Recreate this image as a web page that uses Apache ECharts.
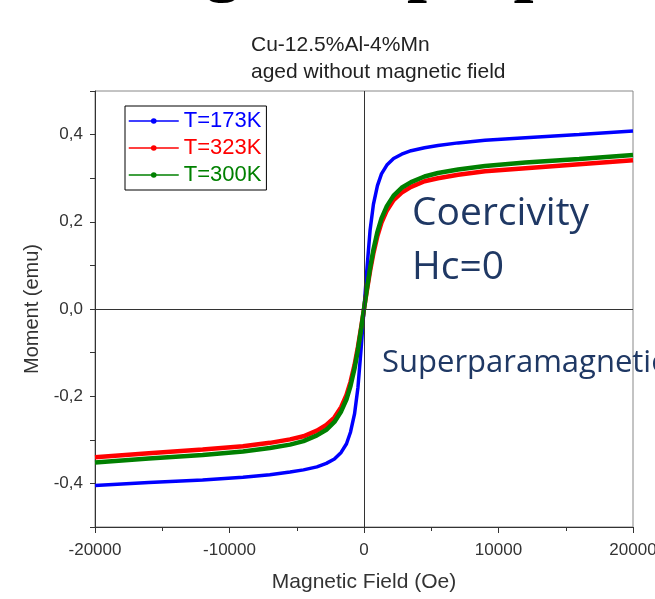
<!DOCTYPE html>
<html>
<head>
<meta charset="utf-8">
<script src="https://cdn.jsdelivr.net/npm/echarts@6/dist/echarts.min.js"></script>
<style>
  html, body { margin: 0; padding: 0; background: #fff; }
  #chart { width: 655px; height: 599px; }
</style>
</head>
<body>
<div id="chart"></div>
<script>
// field values (Oe), shared by all curves
let field = [-20000, -16000, -12000, -9000, -7000, -5500, -4500, -3500, -2800, -2200, -1700, -1300, -1000, -700, -450, -200, 0,
  200, 450, 700, 1000, 1300, 1700, 2200, 2800, 3500, 4500, 5500, 7000, 9000, 12000, 16000, 20000];
// moment (emu)
let m173 = [-0.405, -0.398, -0.392, -0.386, -0.380, -0.374, -0.369, -0.362, -0.354, -0.344, -0.329, -0.309, -0.282, -0.240, -0.180, -0.085, 0,
  0.085, 0.180, 0.240, 0.283, 0.310, 0.330, 0.345, 0.355, 0.363, 0.370, 0.375, 0.381, 0.387, 0.393, 0.400, 0.408];
let m323 = [-0.340, -0.331, -0.322, -0.315, -0.307, -0.299, -0.292, -0.279, -0.266, -0.249, -0.225, -0.197, -0.167, -0.128, -0.087, -0.040, 0,
  0.040, 0.087, 0.128, 0.168, 0.198, 0.226, 0.250, 0.267, 0.280, 0.293, 0.300, 0.308, 0.316, 0.323, 0.332, 0.341];
let m300 = [-0.352, -0.343, -0.335, -0.327, -0.319, -0.311, -0.303, -0.290, -0.277, -0.259, -0.235, -0.207, -0.176, -0.136, -0.093, -0.043, 0,
  0.043, 0.093, 0.136, 0.177, 0.208, 0.236, 0.260, 0.278, 0.291, 0.304, 0.312, 0.320, 0.328, 0.336, 0.344, 0.353];
let names = ['T=173K', 'T=323K', 'T=300K'];
let colors = ['#0000ff', '#ff0000', '#008000'];

function pairs(ys) {
  return field.map((x, i) => [x, ys[i]]);
}

let myChart = echarts.init(document.getElementById('chart'));
let font = 'Liberation Sans, Arial, sans-serif';
let note = '#1f3864';

let option = {
  animation: false,
  grid: {
    left: 95, right: 22, top: 91, bottom: 72,
    outerBoundsMode: 'none',
    show: true, borderColor: '#888', borderWidth: 1
  },
  legend: {
    orient: 'vertical',
    left: 125,
    top: 106,
    itemWidth: 50,
    itemHeight: 7,
    itemGap: 5,
    padding: [4, 5, 4, 3],
    borderColor: '#000',
    borderWidth: 1,
    backgroundColor: '#fff',
    lineStyle: { width: 1.5 },
    textStyle: { fontFamily: font, fontSize: 22 },
    data: names.map((n, i) => ({ name: n, textStyle: { color: colors[i] } }))
  },
  xAxis: {
    type: 'value',
    min: -20000, max: 20000, interval: 10000,
    name: 'Magnetic Field (Oe)',
    nameLocation: 'middle',
    nameGap: 45,
    nameTextStyle: { fontFamily: font, fontSize: 21, color: '#333' },
    axisLine: { onZero: false, lineStyle: { color: '#333' } },
    axisTick: { length: 6, lineStyle: { color: '#333' } },
    minorTick: { show: true, splitNumber: 2, length: 4, lineStyle: { color: '#333' } },
    axisLabel: { fontFamily: font, fontSize: 17, color: '#333', margin: 15, formatter: v => String(v) },
    splitLine: { show: false }
  },
  yAxis: {
    type: 'value',
    min: -0.5, max: 0.5, interval: 0.1,
    name: 'Moment (emu)',
    nameLocation: 'middle',
    nameGap: 53,
    nameRotate: 90,
    nameTextStyle: { fontFamily: font, fontSize: 20, color: '#333' },
    axisLine: { onZero: false, lineStyle: { color: '#333' } },
    axisTick: { length: 5, lineStyle: { color: '#333' } },
    axisLabel: {
      fontFamily: font, fontSize: 17, color: '#333', margin: 12,
      formatter: v => Math.round(v * 10) % 2 === 0 ? v.toFixed(1).replace('.', ',') : ''
    },
    splitLine: { show: false }
  },
  series: names.map((n, i) => ({
    name: n,
    type: 'line',
    data: pairs([m173, m323, m300][i]),
    smooth: false,
    symbol: 'circle',
    symbolSize: 4,
    showSymbol: false,
    color: colors[i],
    lineStyle: { width: i === 0 ? 3.5 : 4.5 },
    markLine: i === 0 ? {
      silent: true,
      symbol: 'none',
      label: { show: false },
      lineStyle: { color: '#333', type: 'solid', width: 1 },
      data: [{ xAxis: 0 }, { yAxis: 0 }]
    } : undefined
  })),
  graphic: [
    { type: 'text', left: 101, top: -67,
      style: { text: 'Magnetic properties', font: 'bold 72px "Liberation Serif"', fill: '#000' } },
    { type: 'text', left: 251, top: 35,
      style: { text: 'Cu-12.5%Al-4%Mn', font: '21px "Liberation Sans"', fill: '#222' } },
    { type: 'text', left: 251, top: 62,
      style: { text: 'aged without magnetic field', font: '21px "Liberation Sans"', fill: '#222' } },
    { type: 'text', left: 412, top: 194,
      style: { text: 'Coercivity', font: '39px "Open Sans"', fill: note } },
    { type: 'text', left: 412, top: 248,
      style: { text: 'Hc=0', font: '39px "Open Sans"', fill: note } },
    { type: 'text', left: 382, top: 348,
      style: { text: 'Superparamagnetic', font: '31px "Open Sans"', fill: note } }
  ]
};

myChart.setOption(option);
</script>
</body>
</html>
